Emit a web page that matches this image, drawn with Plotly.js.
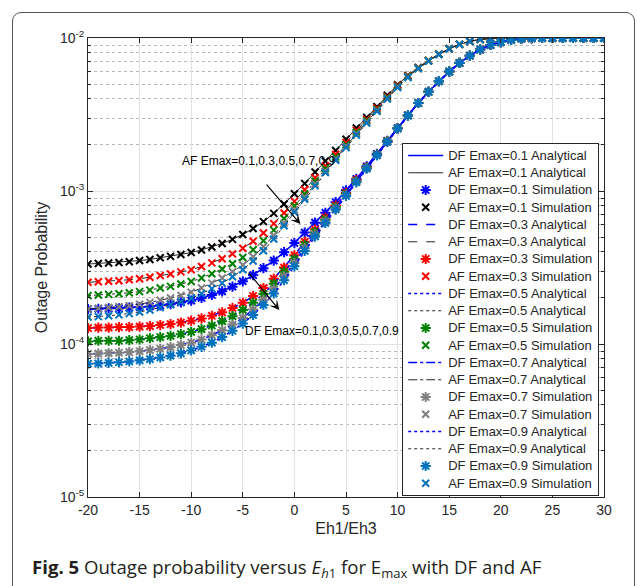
<!DOCTYPE html>
<html><head><meta charset="utf-8">
<script src="https://cdn.plot.ly/plotly-3.0.1.min.js"></script>
<style>
html,body{margin:0;padding:0;background:#fff;}
#wrap{position:relative;width:637px;height:586px;overflow:hidden;background:#fff;}
#frame{position:absolute;left:12px;top:12px;width:623px;height:650px;border:1.5px solid #555;border-radius:9px;box-sizing:border-box;}
#chart{position:absolute;left:0;top:0;width:637px;height:586px;}
</style></head>
<body><div id="wrap"><div id="frame"></div><div id="chart"></div></div>
<script>
// Eh1/Eh3 (dB)
const EH = [-20,-19,-18,-17,-16,-15,-14,-13,-12,-11,-10,-9,-8,-7,-6,-5,-4,-3,-2,-1,0,1,2,3,4,5,6,7,8,9,10,11,12,13,14,15,16,17,18,19,20,21,22,23,24,25,26,27,28,29,30];

const AF_01 = [3.33e-4,3.36e-4,3.38e-4,3.41e-4,3.45e-4,3.51e-4,3.57e-4,3.66e-4,3.74e-4,3.85e-4,3.96e-4,4.12e-4,4.31e-4,4.54e-4,4.83e-4,5.20e-4,5.68e-4,6.31e-4,7.14e-4,8.22e-4,
 9.59e-4,1.12e-3,1.33e-3,1.57e-3,1.84e-3,2.18e-3,2.58e-3,3.03e-3,3.56e-3,4.22e-3,4.95e-3,5.69e-3,6.43e-3,7.14e-3,7.85e-3,8.51e-3,9.08e-3,9.51e-3,9.79e-3,9.95e-3,
 1e-2,1e-2,1e-2,1e-2,1e-2,1e-2,1e-2,1e-2,1e-2,1e-2,1e-2];
const AF_03 = [2.53e-4,2.55e-4,2.57e-4,2.59e-4,2.63e-4,2.67e-4,2.73e-4,2.80e-4,2.87e-4,2.96e-4,3.06e-4,3.21e-4,3.39e-4,3.61e-4,3.88e-4,4.23e-4,4.69e-4,5.31e-4,6.12e-4,7.19e-4,
 8.55e-4,1.02e-3,1.22e-3,1.46e-3,1.74e-3,2.08e-3,2.49e-3,2.94e-3,3.48e-3,4.14e-3,4.89e-3,5.64e-3,6.38e-3,7.11e-3,7.83e-3,8.51e-3,9.08e-3,9.51e-3,9.79e-3,9.95e-3,
 1e-2,1e-2,1e-2,1e-2,1e-2,1e-2,1e-2,1e-2,1e-2,1e-2,1e-2];
const AF_05 = [2.07e-4,2.09e-4,2.11e-4,2.13e-4,2.16e-4,2.20e-4,2.25e-4,2.32e-4,2.38e-4,2.47e-4,2.56e-4,2.70e-4,2.88e-4,3.09e-4,3.35e-4,3.68e-4,4.13e-4,4.73e-4,5.55e-4,6.61e-4,
 7.98e-4,9.55e-4,1.16e-3,1.40e-3,1.67e-3,2.01e-3,2.42e-3,2.88e-3,3.41e-3,4.08e-3,4.84e-3,5.60e-3,6.35e-3,7.10e-3,7.83e-3,8.51e-3,9.08e-3,9.51e-3,9.79e-3,9.95e-3,
 1e-2,1e-2,1e-2,1e-2,1e-2,1e-2,1e-2,1e-2,1e-2,1e-2,1e-2];
const AF_07 = [1.69e-4,1.71e-4,1.73e-4,1.75e-4,1.78e-4,1.82e-4,1.87e-4,1.93e-4,2.00e-4,2.08e-4,2.18e-4,2.32e-4,2.50e-4,2.70e-4,2.97e-4,3.28e-4,3.72e-4,4.32e-4,5.12e-4,6.17e-4,
 7.53e-4,9.10e-4,1.11e-3,1.35e-3,1.62e-3,1.96e-3,2.37e-3,2.83e-3,3.36e-3,4.03e-3,4.79e-3,5.55e-3,6.32e-3,7.08e-3,7.82e-3,8.49e-3,9.08e-3,9.51e-3,9.79e-3,9.95e-3,
 1e-2,1e-2,1e-2,1e-2,1e-2,1e-2,1e-2,1e-2,1e-2,1e-2,1e-2];
const AF_09 = [1.50e-4,1.51e-4,1.53e-4,1.55e-4,1.58e-4,1.62e-4,1.67e-4,1.73e-4,1.81e-4,1.89e-4,1.99e-4,2.13e-4,2.30e-4,2.50e-4,2.75e-4,3.06e-4,3.49e-4,4.07e-4,4.86e-4,5.92e-4,
 7.28e-4,8.83e-4,1.08e-3,1.32e-3,1.59e-3,1.92e-3,2.32e-3,2.78e-3,3.32e-3,3.99e-3,4.75e-3,5.52e-3,6.31e-3,7.06e-3,7.80e-3,8.49e-3,9.08e-3,9.51e-3,9.79e-3,9.95e-3,
 1e-2,1e-2,1e-2,1e-2,1e-2,1e-2,1e-2,1e-2,1e-2,1e-2,1e-2];

const DF_01 = [1.69e-4,1.70e-4,1.71e-4,1.71e-4,1.73e-4,1.74e-4,1.76e-4,1.79e-4,1.82e-4,1.87e-4,1.92e-4,2.00e-4,2.09e-4,2.21e-4,2.37e-4,2.57e-4,2.82e-4,3.13e-4,3.51e-4,3.98e-4,
 4.57e-4,5.35e-4,6.21e-4,7.21e-4,8.45e-4,1.01e-3,1.20e-3,1.45e-3,1.75e-3,2.13e-3,2.58e-3,3.13e-3,3.76e-3,4.45e-3,5.22e-3,6.03e-3,6.87e-3,7.66e-3,8.41e-3,9.00e-3,
 9.40e-3,9.71e-3,9.91e-3,9.98e-3,1e-2,1e-2,1e-2,1e-2,1e-2,1e-2,1e-2];
const DF_03 = [1.27e-4,1.28e-4,1.28e-4,1.29e-4,1.29e-4,1.30e-4,1.31e-4,1.33e-4,1.35e-4,1.38e-4,1.42e-4,1.47e-4,1.53e-4,1.61e-4,1.72e-4,1.86e-4,2.06e-4,2.32e-4,2.67e-4,3.16e-4,
 3.80e-4,4.66e-4,5.60e-4,6.70e-4,8.04e-4,9.71e-4,1.18e-3,1.43e-3,1.73e-3,2.11e-3,2.57e-3,3.12e-3,3.76e-3,4.45e-3,5.22e-3,6.03e-3,6.87e-3,7.66e-3,8.41e-3,9.00e-3,
 9.40e-3,9.71e-3,9.91e-3,9.98e-3,1e-2,1e-2,1e-2,1e-2,1e-2,1e-2,1e-2];
const DF_05 = [1.04e-4,1.05e-4,1.05e-4,1.05e-4,1.06e-4,1.07e-4,1.09e-4,1.11e-4,1.13e-4,1.16e-4,1.20e-4,1.25e-4,1.32e-4,1.41e-4,1.52e-4,1.67e-4,1.86e-4,2.12e-4,2.48e-4,2.97e-4,
 3.59e-4,4.43e-4,5.38e-4,6.50e-4,7.85e-4,9.55e-4,1.16e-3,1.42e-3,1.73e-3,2.11e-3,2.57e-3,3.12e-3,3.76e-3,4.45e-3,5.22e-3,6.03e-3,6.87e-3,7.66e-3,8.41e-3,9.00e-3,
 9.40e-3,9.71e-3,9.91e-3,9.98e-3,1e-2,1e-2,1e-2,1e-2,1e-2,1e-2,1e-2];
const DF_07 = [8.61e-5,8.65e-5,8.71e-5,8.77e-5,8.85e-5,8.97e-5,9.12e-5,9.31e-5,9.55e-5,9.84e-5,1.02e-4,1.07e-4,1.14e-4,1.23e-4,1.34e-4,1.48e-4,1.68e-4,1.94e-4,2.29e-4,2.77e-4,
 3.39e-4,4.23e-4,5.20e-4,6.34e-4,7.71e-4,9.42e-4,1.15e-3,1.41e-3,1.72e-3,2.10e-3,2.56e-3,3.12e-3,3.76e-3,4.45e-3,5.22e-3,6.03e-3,6.87e-3,7.66e-3,8.41e-3,9.00e-3,
 9.40e-3,9.71e-3,9.91e-3,9.98e-3,1e-2,1e-2,1e-2,1e-2,1e-2,1e-2,1e-2];
const DF_09 = [7.43e-5,7.46e-5,7.53e-5,7.60e-5,7.69e-5,7.82e-5,7.96e-5,8.17e-5,8.39e-5,8.69e-5,9.08e-5,9.59e-5,1.02e-4,1.11e-4,1.22e-4,1.36e-4,1.55e-4,1.80e-4,2.14e-4,2.61e-4,
 3.22e-4,4.06e-4,5.04e-4,6.18e-4,7.57e-4,9.29e-4,1.14e-3,1.40e-3,1.71e-3,2.09e-3,2.56e-3,3.11e-3,3.76e-3,4.45e-3,5.22e-3,6.03e-3,6.87e-3,7.66e-3,8.41e-3,9.00e-3,
 9.40e-3,9.71e-3,9.91e-3,9.98e-3,1e-2,1e-2,1e-2,1e-2,1e-2,1e-2,1e-2];

const EMAX = ['0.1','0.3','0.5','0.7','0.9'];
const DF_SERIES = [DF_01, DF_03, DF_05, DF_07, DF_09];
const AF_SERIES = [AF_01, AF_03, AF_05, AF_07, AF_09];
const X_TICKS = [-20,-15,-10,-5,0,5,10,15,20,25,30];
const X_TICKTEXT = ['-20','-15','-10','-5','0','5','10','15','20','25','30'];
const Y_TICKS = [1e-5, 1e-4, 1e-3, 1e-2];
const Y_TICKTEXT = ['10<sup>-5</sup>','10<sup>-4</sup>','10<sup>-3</sup>','10<sup>-2</sup>'];

// styles
const DASHES = ['solid','dash','dot','dashdot','dot'];
const DF_SIM_COLORS = ['#0000ff','#ff0000','#008000','#808080','#0072bd'];
const AF_SIM_COLORS = ['#000000','#ff0000','#008000','#808080','#0072bd'];
const LBL = t => '<span style="font-size:13px">' + t + '</span>';

const traces = [];
EMAX.forEach((e, i) => {
  traces.push({x: EH, y: DF_SERIES[i], mode: 'lines', name: LBL('DF Emax=' + e + ' Analytical'),
    line: {color: '#0000ff', width: 1.6, dash: DASHES[i]}});
  traces.push({x: EH, y: AF_SERIES[i], mode: 'lines', name: LBL('AF Emax=' + e + ' Analytical'),
    line: {color: '#262626', width: 1, dash: DASHES[i]}});
  traces.push({x: EH, y: DF_SERIES[i], mode: 'markers', name: LBL('DF Emax=' + e + ' Simulation'),
    marker: {symbol: 'asterisk-open', size: 8.5, color: DF_SIM_COLORS[i], line: {color: DF_SIM_COLORS[i], width: 2}}});
  traces.push({x: EH, y: AF_SERIES[i], mode: 'markers', name: LBL('AF Emax=' + e + ' Simulation'),
    marker: {symbol: 'x-thin-open', size: 7, color: AF_SIM_COLORS[i], line: {color: AF_SIM_COLORS[i], width: 2}}});
});

const minorVals = [];
for (let d = -5; d < -2; d++) for (let k = 2; k <= 9; k++) minorVals.push(k * Math.pow(10, d));

const AX = '#262626';
const FONT = '"Liberation Sans", Arial, Helvetica, sans-serif';
const layout = {
  width: 637, height: 586,
  paper_bgcolor: 'rgba(0,0,0,0)', plot_bgcolor: '#ffffff',
  margin: {l: 88, r: 33, t: 38, b: 89},
  font: {family: FONT, color: AX},
  showlegend: true,
  legend: {x: 0.9903, y: 0.7712, xanchor: 'right', yanchor: 'top', bgcolor: '#ffffff',
    bordercolor: AX, borderwidth: 1.2, font: {size: 11, family: FONT, color: AX}, itemwidth: 35, tracegroupgap: 0},
  xaxis: {range: [-20, 30], tickmode: 'array', tickvals: X_TICKS, ticktext: X_TICKTEXT, ticks: 'inside', ticklen: 5, tickcolor: AX,
    showline: true, linecolor: AX, linewidth: 1, mirror: 'ticks', showgrid: true, gridcolor: '#e3e3e3', zeroline: false,
    tickfont: {size: 14, color: AX}, title: {text: 'Eh1/Eh3', font: {size: 16, color: AX}, standoff: 6}},
  yaxis: {type: 'log', range: [-5, -2], tickmode: 'array', tickvals: Y_TICKS, ticktext: Y_TICKTEXT,
    ticks: 'inside', ticklen: 5, tickcolor: AX, showline: true, linecolor: AX, linewidth: 1, mirror: 'ticks',
    showgrid: true, gridcolor: '#e3e3e3', zeroline: false, tickfont: {size: 14, color: AX},
    minor: {tickmode: 'array', tickvals: minorVals, ticks: 'inside', ticklen: 3, tickcolor: AX,
      showgrid: true, gridcolor: '#b8b8b8', griddash: 'dot', gridwidth: 1},
    title: {text: 'Outage Probability', font: {size: 16, color: AX}, standoff: 8}},
  annotations: [
    {x: -11.07, y: -2.804, xref: 'x', yref: 'y', text: 'AF Emax=0.1,0.3,0.5,0.7,0.9', showarrow: false,
      xanchor: 'left', yanchor: 'middle', font: {size: 12, color: '#000'}},
    {x: -4.95, y: -3.915, xref: 'x', yref: 'y', text: 'DF Emax=0.1,0.3,0.5,0.7,0.9', showarrow: false,
      xanchor: 'left', yanchor: 'middle', font: {size: 12, color: '#000'}},
    {x: 0.58, y: -3.216, ax: -2.82, ay: -2.948, xref: 'x', yref: 'y', axref: 'x', ayref: 'y', text: '',
      showarrow: true, arrowhead: 3, arrowsize: 1.4, arrowwidth: 1.2, arrowcolor: '#000'},
    {x: -1.46, y: -3.778, ax: -4.56, ay: -3.523, xref: 'x', yref: 'y', axref: 'x', ayref: 'y', text: '',
      showarrow: true, arrowhead: 3, arrowsize: 1.4, arrowwidth: 1.2, arrowcolor: '#000'},
    {x: -0.1124, y: -0.1547, xref: 'paper', yref: 'paper', xanchor: 'left', yanchor: 'middle', showarrow: false,
      text: '<b>Fig. 5</b> Outage probability versus <i>E</i><sub><i>h</i>1</sub> for E<sub>max</sub> with DF and AF',
      font: {family: '"Open Sans", "Noto Sans", sans-serif', size: 18.6, color: '#231f20'}}
  ]
};

// legend row pitch of the reference (Plotly's minimum row is 19px)
const LEG_PITCH = 17.25, LEG_FIRST = 12.5, LEG_TAIL = 5.5;

Plotly.newPlot('chart', traces, layout, {staticPlot: true, displayModeBar: false}).then(gd => {
  try {
    const leg = gd.querySelector('g.legend');
    const items = leg.querySelectorAll('g.traces');
    const parse = el => {
      const m = /translate\(\s*([-\d.e]+)[\s,]+([-\d.e]+)\s*\)/.exec(el.getAttribute('transform') || '');
      return m ? [parseFloat(m[1]), parseFloat(m[2])] : [0, 0];
    };
    items.forEach((it, i) => {
      const p = parse(it);
      it.setAttribute('transform', 'translate(' + p[0] + ',' + (LEG_FIRST + i * LEG_PITCH) + ')');
    });
    const bg = leg.querySelector('rect.bg');
    if (bg) bg.setAttribute('height', LEG_FIRST + (items.length - 1) * LEG_PITCH + LEG_TAIL + 6);
  } catch (err) { /* keep default legend */ }
});
</script></body></html>
